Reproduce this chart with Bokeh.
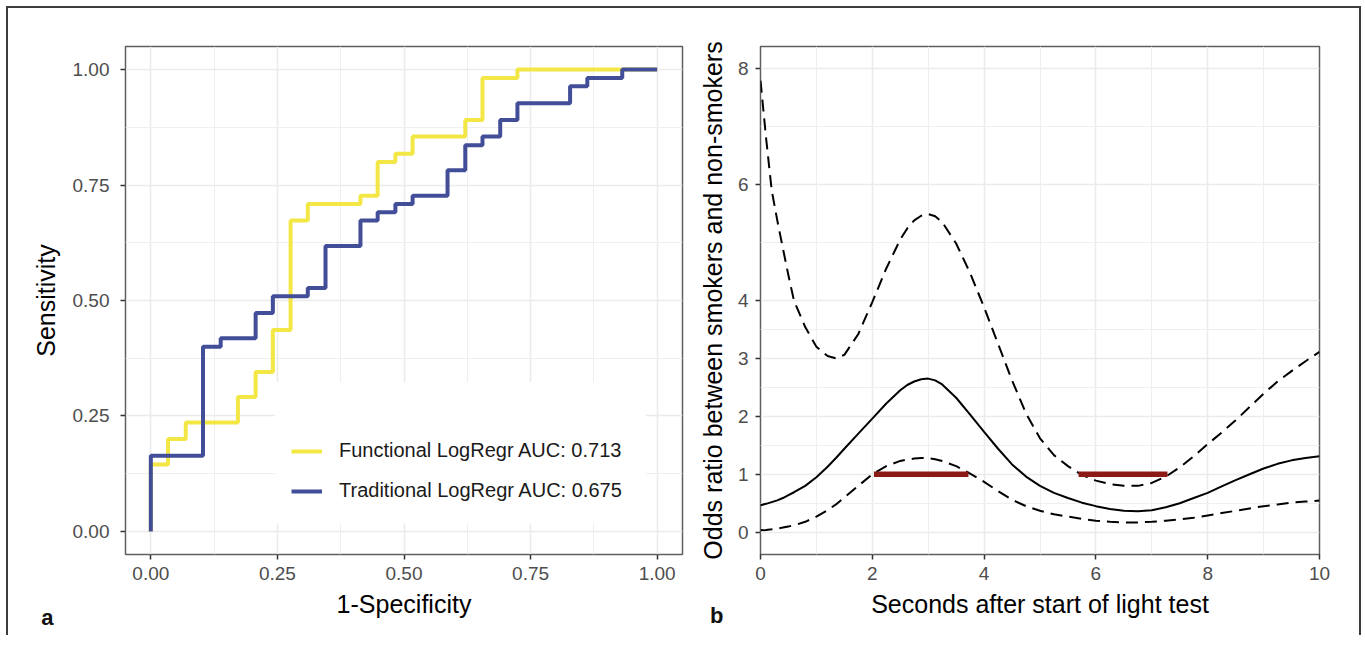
from bokeh.plotting import figure
from bokeh.models import (FixedTicker, Legend, LegendItem, Label, BoxAnnotation,
                          Range1d, ColumnDataSource, NumeralTickFormatter)
from bokeh.layouts import row
from bokeh.embed import file_html
from bokeh.resources import INLINE

# ---------------- data: panel a (ROC curves) ----------------
func_fpr = [0, 0, 0.034, 0.034, 0.069, 0.069, 0.172, 0.172, 0.207, 0.207, 0.241, 0.241,
            0.276, 0.276, 0.310, 0.310, 0.414, 0.414, 0.448, 0.448, 0.483, 0.483,
            0.517, 0.517, 0.621, 0.621, 0.655, 0.655, 0.724, 0.724, 1.0]
func_tpr = [0, 0.145, 0.145, 0.200, 0.200, 0.236, 0.236, 0.291, 0.291, 0.345, 0.345, 0.436,
            0.436, 0.673, 0.673, 0.709, 0.709, 0.727, 0.727, 0.800, 0.800, 0.818,
            0.818, 0.855, 0.855, 0.891, 0.891, 0.982, 0.982, 1.0, 1.0]

trad_fpr = [0, 0, 0.103, 0.103, 0.138, 0.138, 0.207, 0.207, 0.241, 0.241, 0.310, 0.310,
            0.345, 0.345, 0.414, 0.414, 0.448, 0.448, 0.483, 0.483, 0.517, 0.517,
            0.586, 0.586, 0.621, 0.621, 0.655, 0.655, 0.690, 0.690, 0.724, 0.724,
            0.828, 0.828, 0.862, 0.862, 0.931, 0.931, 1.0]
trad_tpr = [0, 0.164, 0.164, 0.400, 0.400, 0.418, 0.418, 0.473, 0.473, 0.509, 0.509, 0.527,
            0.527, 0.618, 0.618, 0.673, 0.673, 0.691, 0.691, 0.709, 0.709, 0.727,
            0.727, 0.782, 0.782, 0.836, 0.836, 0.855, 0.855, 0.891, 0.891, 0.927,
            0.927, 0.964, 0.964, 0.982, 0.982, 1.0, 1.0]

roc_labels = ["Functional LogRegr AUC: 0.713", "Traditional LogRegr AUC: 0.675"]
roc_ticks = [0, 0.25, 0.5, 0.75, 1.0]
roc_minor = [0.125, 0.375, 0.625, 0.875]

# ---------------- data: panel b (odds ratio curves) ----------------
seconds = [0, 0.1, 0.2, 0.3, 0.4, 0.5, 0.6, 0.8, 1.0, 1.2, 1.35, 1.5, 1.75, 2.0, 2.25,
           2.5, 2.625, 2.75, 2.875, 3.0, 3.125, 3.25, 3.5, 3.75, 4.0, 4.25, 4.5, 4.75,
           5.0, 5.25, 5.5, 5.75, 6.0, 6.25, 6.5, 6.75, 7.0, 7.25, 7.5, 7.75, 8.0, 8.25,
           8.5, 8.75, 9.0, 9.25, 9.5, 9.75, 10]
odds_upper = [7.79, 6.80, 5.90, 5.38, 4.90, 4.43, 3.99, 3.54, 3.20, 3.04, 3.00, 3.06, 3.42,
              3.97, 4.55, 5.05, 5.24, 5.38, 5.46, 5.49, 5.45, 5.35, 4.98, 4.47, 3.88,
              3.25, 2.62, 2.05, 1.62, 1.33, 1.14, 0.99, 0.89, 0.83, 0.80, 0.80, 0.85,
              0.96, 1.12, 1.31, 1.52, 1.72, 1.93, 2.16, 2.39, 2.60, 2.78, 2.95, 3.11]
odds_est = [0.466, 0.49, 0.52, 0.55, 0.59, 0.64, 0.69, 0.80, 0.95, 1.13, 1.28, 1.44, 1.70,
            1.96, 2.22, 2.45, 2.54, 2.60, 2.64, 2.65, 2.62, 2.55, 2.32, 2.03, 1.73,
            1.44, 1.17, 0.96, 0.80, 0.68, 0.59, 0.51, 0.45, 0.40, 0.37, 0.36, 0.38,
            0.43, 0.50, 0.59, 0.68, 0.79, 0.90, 1.00, 1.10, 1.18, 1.24, 1.28, 1.31]
odds_lower = [0.034, 0.04, 0.05, 0.065, 0.08, 0.10, 0.12, 0.18, 0.27, 0.38, 0.48, 0.60,
              0.80, 1.00, 1.14, 1.23, 1.255, 1.27, 1.28, 1.28, 1.26, 1.23, 1.14, 1.01,
              0.87, 0.71, 0.56, 0.45, 0.37, 0.31, 0.27, 0.23, 0.20, 0.18, 0.17, 0.17,
              0.18, 0.20, 0.22, 0.25, 0.29, 0.33, 0.37, 0.41, 0.45, 0.48, 0.51, 0.53, 0.546]
sig_start = [2.03, 5.69]
sig_end = [3.72, 7.28]
sig_level = [1, 1]

or_yticks = [0, 1, 2, 3, 4, 6, 8]
or_yminor = [0.5, 1.5, 2.5, 3.5, 5, 7]
or_xticks = [0, 2, 4, 6, 8, 10]
or_xminor = [1, 3, 5, 7, 9]

panel_letters = ["a", "b"]

FONT = "Liberation Sans"
GRID = "#EBEBEB"
YELLOW = "#F3E745"
BLUE = "#434E98"


def style(p):
    p.outline_line_color = "#5f5f5f"
    p.outline_line_width = 1.5
    for ax in (p.xaxis[0], p.yaxis[0]):
        ax.axis_line_color = None
        ax.major_tick_line_color = "#333333"
        ax.major_tick_line_width = 1.5
        ax.major_tick_in = 0
        ax.major_tick_out = 5
        ax.minor_tick_line_color = None
        ax.major_label_text_font = FONT
        ax.major_label_text_font_size = "19px"
        ax.major_label_text_color = "#4D4D4D"
        ax.axis_label_text_font = FONT
        ax.axis_label_text_font_size = "25px"
        ax.axis_label_text_font_style = "normal"
        ax.axis_label_text_color = "#000000"
    for g in (p.xgrid[0], p.ygrid[0]):
        g.grid_line_color = GRID
        g.grid_line_width = 1.6
        g.minor_grid_line_color = "#EFEFEF"
        g.minor_grid_line_width = 1.0
    p.background_fill_color = "white"
    p.border_fill_color = "white"


# ---------------- panel a ----------------
p1 = figure(frame_width=557, frame_height=508, min_border_left=117, min_border_right=13,
            min_border_top=38, min_border_bottom=81,
            x_range=Range1d(-0.05, 1.05), y_range=Range1d(-0.05, 1.05),
            output_backend="svg", toolbar_location=None)
style(p1)
p1.xaxis.ticker = FixedTicker(ticks=roc_ticks, minor_ticks=roc_minor)
p1.yaxis.ticker = FixedTicker(ticks=roc_ticks, minor_ticks=roc_minor)
p1.xaxis.formatter = NumeralTickFormatter(format="0.00")
p1.yaxis.formatter = NumeralTickFormatter(format="0.00")
p1.xaxis.axis_label = "1-Specificity"
p1.yaxis.axis_label = "Sensitivity"
p1.xaxis.major_label_standoff = 7
p1.yaxis.major_label_standoff = 11
p1.xaxis.axis_label_standoff = 7
p1.yaxis.axis_label_standoff = 10

p1.add_layout(BoxAnnotation(left=0.2457, right=0.977, bottom=0.0172, top=0.323,
                            fill_color="white", fill_alpha=1.0, line_color=None,
                            level="underlay"))

src_f = ColumnDataSource(dict(x=func_fpr, y=func_tpr))
src_t = ColumnDataSource(dict(x=trad_fpr, y=trad_tpr))
r_f = p1.line("x", "y", source=src_f, line_color=YELLOW, line_width=4)
r_t = p1.line("x", "y", source=src_t, line_color=BLUE, line_width=4)

leg = Legend(items=[LegendItem(label=roc_labels[0], renderers=[r_f]),
                    LegendItem(label=roc_labels[1], renderers=[r_t])],
             location=(166, 52), glyph_width=31, glyph_height=20, label_standoff=17,
             spacing=17, padding=0, margin=0, background_fill_alpha=0,
             border_line_alpha=0, label_text_font=FONT, label_text_font_size="20px",
             label_text_color="#1a1a1a")
p1.add_layout(leg)
# panel letter placed in a side panel so it is not clipped to the plot frame
p1.add_layout(Label(x=-0.2165, y=-0.1864, text=panel_letters[0],
                    text_font=FONT, text_font_size="22px", text_font_style="bold",
                    text_baseline="alphabetic", text_color="#111111"), "right")

# ---------------- panel b ----------------
p2 = figure(frame_width=559, frame_height=508, min_border_left=65, min_border_right=40,
            min_border_top=38, min_border_bottom=81,
            x_range=Range1d(0, 10), y_range=Range1d(-0.384, 8.379),
            output_backend="svg", toolbar_location=None)
style(p2)
p2.xaxis.ticker = FixedTicker(ticks=or_xticks, minor_ticks=or_xminor)
p2.yaxis.ticker = FixedTicker(ticks=or_yticks, minor_ticks=or_yminor)
p2.xaxis.axis_label = "Seconds after start of light test"
p2.yaxis.axis_label = "Odds ratio between smokers and non-smokers"
p2.xaxis.major_label_standoff = 7
p2.yaxis.major_label_standoff = 7
p2.xaxis.axis_label_standoff = 7
p2.yaxis.axis_label_standoff = 8

src_or = ColumnDataSource(dict(x=seconds, up=odds_upper, est=odds_est, lo=odds_lower))
p2.line("x", "up", source=src_or, line_color="black", line_width=2, line_dash="12 7")
p2.line("x", "lo", source=src_or, line_color="black", line_width=2, line_dash="12 7")
p2.line("x", "est", source=src_or, line_color="black", line_width=2)
src_sig = ColumnDataSource(dict(x0=sig_start, x1=sig_end, y=sig_level))
p2.segment(x0="x0", y0="y", x1="x1", y1="y", source=src_sig, line_color="#8B1A14",
           line_width=5.5, line_cap="butt")
p2.add_layout(Label(x=-0.903, y=-1.436, text=panel_letters[1],
                    text_font=FONT, text_font_size="22px", text_font_style="bold",
                    text_baseline="alphabetic", text_color="#111111"), "right")

layout = row(p1, p2, styles={"border-top": "2px solid #3c3c3c",
                             "border-left": "2px solid #3c3c3c",
                             "border-right": "2px solid #3c3c3c",
                             "margin-left": "6px", "margin-top": "6px"})

open("out.html", "w").write(file_html(layout, INLINE))
